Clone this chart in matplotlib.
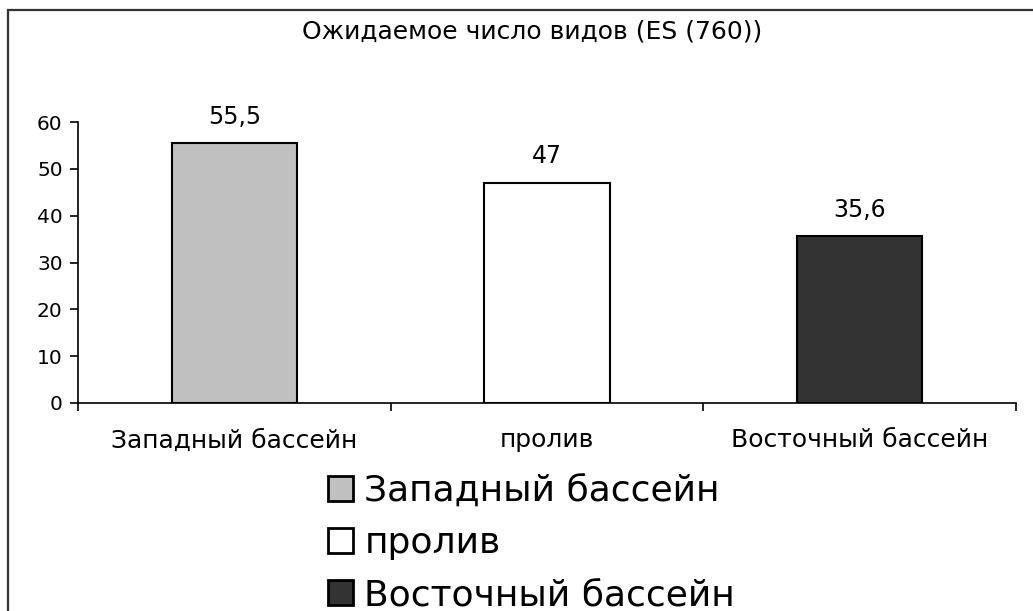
import matplotlib
matplotlib.use("Agg")
import matplotlib.pyplot as plt
from matplotlib.patches import Rectangle

# Data
categories = ["Западный бассейн", "пролив", "Восточный бассейн"]
values = [55.5, 47, 35.6]
value_labels = ["55,5", "47", "35,6"]
bar_colors = ["#c0c0c0", "#ffffff", "#333333"]
title = "Ожидаемое число видов (ES (760))"
yticks = [0, 10, 20, 30, 40, 50, 60]

W, H = 1033, 611
plt.rcParams["font.family"] = ["DejaVu Sans"]
fig = plt.figure(figsize=(W / 100, H / 100), dpi=100)
fig.patch.set_facecolor("white")

# Outer chart border (runs off the right and bottom edges)
fig.patches.append(Rectangle((8 / W, -0.05), 1.2, 1 - 10 / H + 0.05,
                             transform=fig.transFigure, fill=False,
                             edgecolor="#333333", linewidth=1.6, zorder=0))

ax = fig.add_axes([78 / W, 1 - 403 / H, (1016 - 78) / W, (403 - 122) / H])
x = list(range(len(categories)))
bars = ax.bar(x, values, width=0.4, color=bar_colors, edgecolor="black",
              linewidth=1.5, zorder=2)

ax.set_xlim(-0.5, len(categories) - 0.5)
ax.set_ylim(0, 60)
ax.set_yticks(yticks)
ax.tick_params(axis="y", direction="out", length=6, width=1.2,
               labelsize=14.5, pad=5)

# Category labels on major ticks (no marks), boundary marks on minor ticks
ax.set_xticks(x)
ax.set_xticklabels(categories, fontsize=18)
ax.tick_params(axis="x", which="major", length=0, pad=32)
for lab in ax.get_xticklabels():
    lab.set_va("baseline")
ax.set_xticks([i - 0.5 for i in range(len(categories) + 1)], minor=True)
ax.tick_params(axis="x", which="minor", direction="out", length=6, width=1.2)

for s in ("top", "right"):
    ax.spines[s].set_visible(False)
for s in ("left", "bottom"):
    ax.spines[s].set_linewidth(1.2)

for xi, v, lab in zip(x, values, value_labels):
    ax.annotate(lab, (xi, v), xytext=(0, 14), textcoords="offset points",
                ha="center", va="baseline", fontsize=17)

fig.text(532 / W, 1 - 38 / H, title, ha="center", va="baseline", fontsize=18)

leg = fig.legend(bars, categories, loc="upper left",
                 bbox_to_anchor=(328 / W, 1 - 474 / H),
                 bbox_transform=fig.transFigure,
                 frameon=False, fontsize=26, borderpad=0, borderaxespad=0,
                 handlelength=0.68, handleheight=0.68, handletextpad=0.33,
                 labelspacing=0.5)
for h in leg.legend_handles:
    h.set_linewidth(2)

fig.savefig("out.png", dpi=100)
